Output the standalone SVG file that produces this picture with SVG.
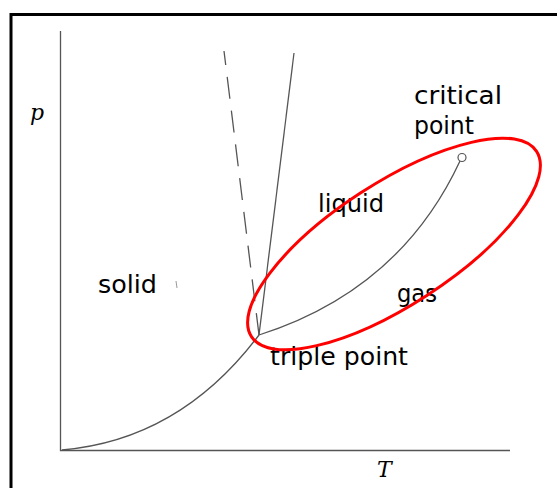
<svg xmlns="http://www.w3.org/2000/svg" width="557" height="488" viewBox="0 0 557 488">
<style>
.ax{stroke:#555;stroke-width:1.3;fill:none}
.ln{stroke:#555;stroke-width:1.3;fill:none}
.lbl{font-family:"DejaVu Sans",sans-serif;font-size:24px;fill:#000}
.math{font-family:"DejaVu Serif",serif;font-style:italic;font-size:22px;fill:#000}
</style>
<rect x="0" y="0" width="557" height="488" fill="#fff"/>
<path d="M11,488 V14.5 H557" fill="none" stroke="#000" stroke-width="3"/>
<g id="axes">
<path class="ax" d="M60.5,31 V450.5 H510"/>
<text class="math" x="30" y="120">p</text>
<text class="math" x="377" y="477">T</text>
</g>
<g id="connectors">
<path class="ln" d="M62,450 Q180,440 259,335"/>
<path class="ln" d="M259,335 L294,53"/>
<path class="ln" d="M259,335 L224,51" stroke-dasharray="22,12"/>
<path class="ln" d="M259,335 Q400,290 460,161"/>
<path d="M176,281 L177,288" stroke="#999" stroke-width="1"/>
</g>
<g id="critical">
<circle cx="462" cy="157.5" r="4" fill="#fff" stroke="#555" stroke-width="1.2"/>
<text class="lbl" x="414" y="104" textLength="88" lengthAdjust="spacingAndGlyphs">critical</text>
<text class="lbl" x="414" y="134" textLength="60" lengthAdjust="spacingAndGlyphs">point</text>
</g>
<g id="liquid"><text class="lbl" x="318" y="212" textLength="66" lengthAdjust="spacingAndGlyphs">liquid</text></g>
<g id="solid"><text class="lbl" x="98" y="293" textLength="59" lengthAdjust="spacingAndGlyphs">solid</text></g>
<g id="gas"><text class="lbl" x="397" y="302" textLength="40" lengthAdjust="spacingAndGlyphs">gas</text></g>
<g id="triple"><text class="lbl" x="270" y="365" textLength="138" lengthAdjust="spacingAndGlyphs">triple point</text></g>
<g id="highlight">
<ellipse cx="394" cy="244" rx="170" ry="61" transform="rotate(-33 394 244)" fill="none" stroke="#f00" stroke-width="3"/>
</g>
</svg>
